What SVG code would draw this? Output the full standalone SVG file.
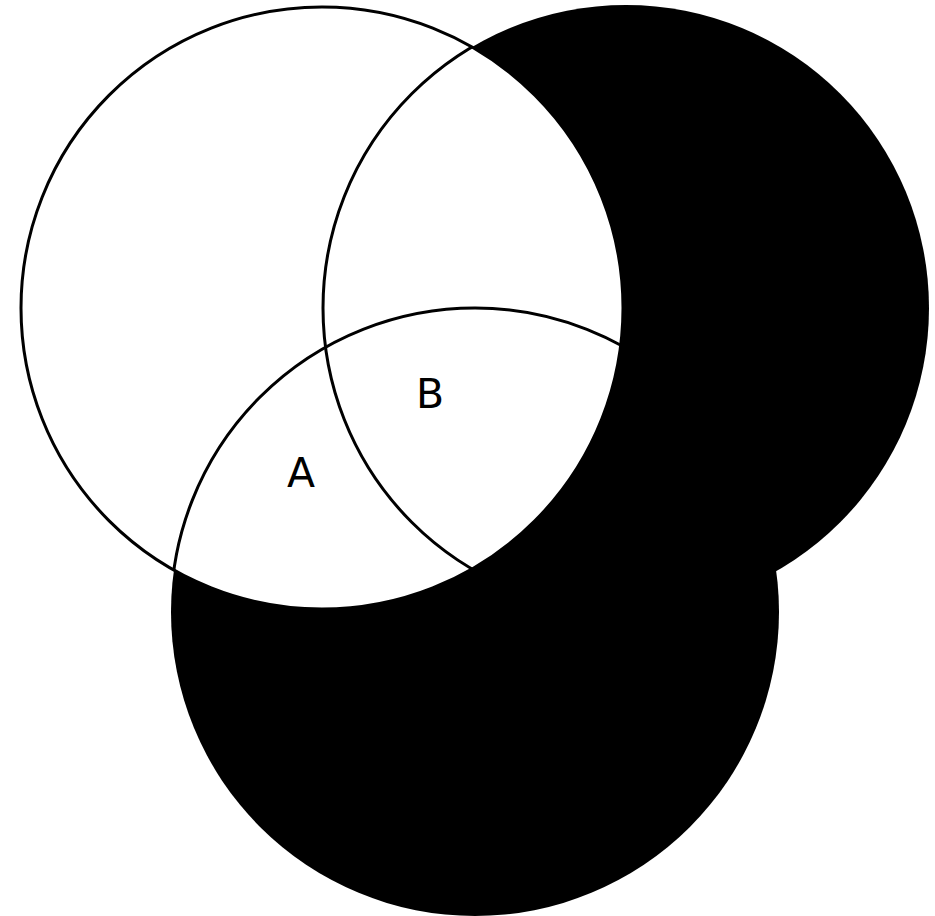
<svg xmlns="http://www.w3.org/2000/svg" width="935" height="916" viewBox="0 0 935 916">
<style>
.lbl{font-family:"DejaVu Sans",sans-serif;font-size:41px;fill:#000;text-anchor:middle}
.out{fill:none;stroke:#000;stroke-width:3}
</style>
<rect width="935" height="916" fill="#fff"/>
<g id="circle-right"><circle cx="626" cy="308" r="303" fill="#000"/></g>
<g id="circle-bottom"><circle cx="475" cy="612" r="304" fill="#000"/></g>
<g id="circle-left"><circle cx="322" cy="308" r="301" fill="#fff" stroke="#000" stroke-width="3"/></g>
<g id="connectors">
<clipPath id="cl"><circle cx="322" cy="308" r="301"/></clipPath>
<g clip-path="url(#cl)">
<circle class="out" cx="626" cy="308" r="303"/>
<circle class="out" cx="475" cy="612" r="304"/>
</g>
</g>
<g id="label-a"><text class="lbl" x="301" y="487">A</text></g>
<g id="label-b"><text class="lbl" x="430" y="408">B</text></g>
</svg>
